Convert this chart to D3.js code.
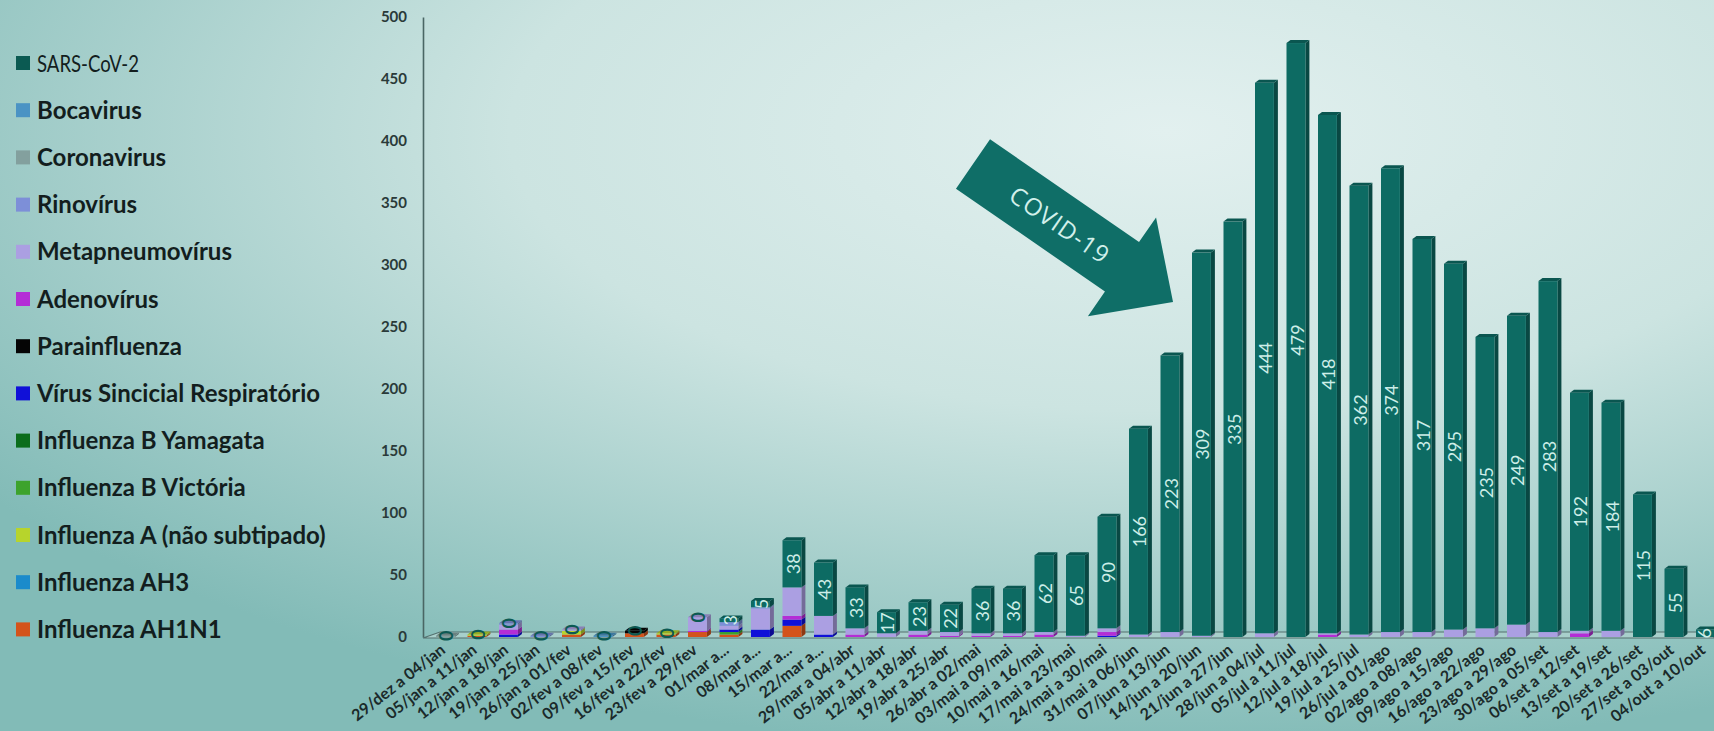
<!DOCTYPE html>
<html>
<head>
<meta charset="utf-8">
<script src="https://cdn.jsdelivr.net/npm/d3@7"></script>
<style>
  html, body { margin: 0; padding: 0; overflow: hidden; }
  svg { display: block; }
</style>
</head>
<body>
<svg id="chart" width="1714" height="731"></svg>
<script>
// Semanas epidemiológicas (eixo x)
const categories = [
  '29/dez a 04/jan', '05/jan a 11/jan', '12/jan a 18/jan', '19/jan a 25/jan', '26/jan a 01/fev',
  '02/fev a 08/fev', '09/fev a 15/fev', '16/fev a 22/fev', '23/fev a 29/fev', '01/mar a...',
  '08/mar a...', '15/mar a...', '22/mar a...', '29/mar a 04/abr', '05/abr a 11/abr',
  '12/abr a 18/abr', '19/abr a 25/abr', '26/abr a 02/mai', '03/mai a 09/mai', '10/mai a 16/mai',
  '17/mai a 23/mai', '24/mai a 30/mai', '31/mai a 06/jun', '07/jun a 13/jun', '14/jun a 20/jun',
  '21/jun a 27/jun', '28/jun a 04/jul', '05/jul a 11/jul', '12/jul a 18/jul', '19/jul a 25/jul',
  '26/jul a 01/ago', '02/ago a 08/ago', '09/ago a 15/ago', '16/ago a 22/ago', '23/ago a 29/ago',
  '30/ago a 05/set', '06/set a 12/set', '13/set a 19/set', '20/set a 26/set', '27/set a 03/out',
  '04/out a 10/out'
];

const yTicks = [0, 50, 100, 150, 200, 250, 300, 350, 400, 450, 500];

// Legend order (top to bottom)
const seriesNames = [
  'SARS-CoV-2', 'Bocavirus', 'Coronavirus', 'Rinovírus', 'Metapneumovírus', 'Adenovírus',
  'Parainfluenza', 'Vírus Sincicial Respiratório', 'Influenza B Yamagata', 'Influenza B Victória',
  'Influenza A (não subtipado)', 'Influenza AH3', 'Influenza AH1N1'
];

const sarsCov2     = [0,0,0,0,0,0,0,0,0,3, 5,38,43,33,17,23,22,36,36,62, 65,90,166,223,309,335,444,479,418,362, 374,317,295,235,249,283,192,184,115,55,6];
const bocavirus    = [0,0,0,0,0,1,0,0,0,0, 0,0,0,0,0,0,0,0,0,0, 0,0,0,0,0,0,0,0,0,0, 0,0,0,0,0,0,0,0,0,0,0];
const coronavirus  = [1,0,0,0,0,0,0,0,0,0, 0,0,0,0,0,0,0,0,0,0, 0,0,0,0,0,0,0,0,0,0, 0,0,0,0,0,0,0,0,0,0,0];
const rinovirus    = [0,0,1,1,0,0,0,0,0,3, 1,0,0,0,0,0,0,0,0,0, 0,0,0,0,0,0,0,0,0,0, 0,0,0,0,0,0,0,0,0,0,0];
const metapneumo   = [0,0,4,0,1,0,0,0,11,3, 17,23,15,5,3,3,3,2,2,2, 1,3,2,4,1,0,3,0,1,2, 4,4,6,7,10,4,2,5,0,0,0];
const adenovirus   = [0,0,4,0,0,0,0,0,1,0, 0,3,0,2,0,2,1,1,1,2, 0,3,0,0,0,0,0,0,2,0, 0,0,0,0,0,0,3,0,0,0,0];
const parainfluenza= [0,0,0,0,0,0,2,0,0,0, 0,0,0,0,0,0,0,0,0,0, 0,0,0,0,0,0,0,0,0,0, 0,0,0,0,0,0,0,0,0,0,0];
const vsr          = [0,0,2,0,0,0,0,0,0,2, 6,5,2,0,0,0,0,0,0,0, 0,1,0,0,0,0,0,0,0,0, 0,0,0,0,0,0,0,0,0,0,0];
const fluBYamagata = [0,0,0,0,0,0,0,0,0,0, 0,0,0,0,0,0,0,0,0,0, 0,0,0,0,0,0,0,0,0,0, 0,0,0,0,0,0,0,0,0,0,0];
const fluBVictoria = [0,0,0,0,0,0,0,0,0,2, 0,0,0,0,0,0,0,0,0,0, 0,0,0,0,0,0,0,0,0,0, 0,0,0,0,0,0,0,0,0,0,0];
const fluA         = [0,1,0,0,3,0,0,1,0,0, 0,0,0,0,0,0,0,0,0,0, 0,0,0,0,0,0,0,0,0,0, 0,0,0,0,0,0,0,0,0,0,0];
const fluAH3       = [0,0,0,0,0,0,0,0,0,0, 0,0,0,0,0,0,0,0,0,0, 0,0,0,0,0,0,0,0,0,0, 0,0,0,0,0,0,0,0,0,0,0];
const fluAH1N1     = [0,1,0,0,2,0,3,2,4,2, 0,9,0,0,0,0,0,0,0,0, 0,0,0,0,0,0,0,0,0,0, 0,0,0,0,0,0,0,0,0,0,0];

const seriesValues = [sarsCov2, bocavirus, coronavirus, rinovirus, metapneumo, adenovirus,
  parainfluenza, vsr, fluBYamagata, fluBVictoria, fluA, fluAH3, fluAH1N1];

const seriesColors = ['#0d6b63', '#4b93c4', '#83a09e', '#7d8fd8', '#ab9fe2', '#b42dd6',
  '#050505', '#1010d8', '#0b6d1c', '#3da32c', '#b7d42c', '#1b8bcb', '#d4531b'];
const legendColors = ['#0b5a52'].concat(seriesColors.slice(1));

const svg = d3.select('#chart');
const W = 1714, H = 731;

// Background
const defs = svg.append('defs');
const bg = defs.append('radialGradient').attr('id', 'bg')
  .attr('cx', '68%').attr('cy', '18%').attr('r', '85%');
bg.append('stop').attr('offset', '0%').attr('stop-color', '#e2f0ef');
bg.append('stop').attr('offset', '45%').attr('stop-color', '#cce4e1');
bg.append('stop').attr('offset', '100%').attr('stop-color', '#82bbb7');
svg.append('rect').attr('width', W).attr('height', H).attr('fill', 'url(#bg)');

// Scales
const x = d3.scaleBand().domain(categories).range([429.7, 1721.2]).paddingInner(0.4).paddingOuter(0.2);
const y = d3.scaleLinear().domain([0, 500]).range([637, 17]);
const bw = x.bandwidth();
const dx = 4, dy = 3;

// Floor
svg.append('path')
  .attr('d', `M423,${y(0) + 1}L440,${y(0) - 5}L${W},${y(0) - 5}L${W},${y(0) + 1}Z`)
  .attr('fill', '#a8cfcb').attr('stroke', '#54716f').attr('stroke-width', 1.2);

// Y axis
const yAxis = svg.append('g').attr('transform', 'translate(423,0)')
  .call(d3.axisLeft(y).tickValues(yTicks).tickSize(0).tickPadding(16));
yAxis.select('.domain').attr('stroke', '#4a6664').attr('stroke-width', 1.6);
yAxis.selectAll('text')
  .attr('font-family', 'Lato, sans-serif').attr('font-weight', 700)
  .attr('font-size', 15).attr('fill', '#2a3a39');

// Stacked data
const rows = categories.map((c, i) => {
  const r = { cat: c };
  seriesNames.forEach((n, k) => { r[n] = seriesValues[k][i]; });
  return r;
});
const stackKeys = seriesNames.slice().reverse();
const stacked = d3.stack().keys(stackKeys)(rows);

const bars = svg.append('g');
stacked.forEach(layer => {
  const color = seriesColors[seriesNames.indexOf(layer.key)];
  const side = d3.color(color).darker(1.1).formatHex();
  const g = bars.append('g');
  const segs = layer.filter(d => d[1] - d[0] > 0);
  g.selectAll('path.side').data(segs).join('path')
    .attr('class', 'side')
    .attr('d', d => {
      const x1 = x(d.data.cat) + bw, yt = y(d[1]), yb = y(d[0]);
      return `M${x1},${yt}L${x1 + dx},${yt - dy}L${x1 + dx},${yb - dy}L${x1},${yb}Z`;
    })
    .attr('fill', side);
  g.selectAll('rect').data(segs).join('rect')
    .attr('x', d => x(d.data.cat))
    .attr('y', d => y(d[1]))
    .attr('width', bw)
    .attr('height', d => y(d[0]) - y(d[1]))
    .attr('fill', color);
});

// Top faces
const tops = rows.map(r => {
  let topKey = null, total = 0;
  stackKeys.forEach(k => { if (r[k] > 0) topKey = k; total += r[k]; });
  return { cat: r.cat, total, topKey };
});
bars.append('g').selectAll('path').data(tops).join('path')
  .attr('d', d => {
    const x0 = x(d.cat), yt = y(d.total);
    return `M${x0},${yt}L${x0 + dx},${yt - dy}L${x0 + bw + dx},${yt - dy}L${x0 + bw},${yt}Z`;
  })
  .attr('fill', d => d3.color(seriesColors[seriesNames.indexOf(d.topKey)]).darker(0.6).formatHex());

// SARS-CoV-2 value labels
const sarsLayer = stacked.find(l => l.key === 'SARS-CoV-2');
svg.append('g').selectAll('text').data(sarsLayer).join('text')
  .attr('transform', d => `translate(${Math.min(x(d.data.cat) + bw / 2 + 1, W - 10)},${(y(d[0]) + y(d[1])) / 2}) rotate(-90)`)
  .attr('text-anchor', 'middle')
  .attr('dominant-baseline', 'central')
  .attr('font-family', 'Lato, sans-serif')
  .attr('font-size', 18)
  .attr('fill', d => (d[1] - d[0]) === 0 ? '#0c5a53' : '#cdeee8')
  .attr('font-weight', d => (d[1] - d[0]) === 0 ? 700 : 400)
  .text(d => d[1] - d[0]);

// X labels
svg.append('g').selectAll('text').data(categories).join('text')
  .attr('transform', d => `translate(${x(d) + bw / 2 + 1},652) rotate(-38)`)
  .attr('text-anchor', 'end')
  .attr('font-family', 'Lato, sans-serif')
  .attr('font-weight', 700)
  .attr('font-size', 16)
  .attr('fill', '#1b2a2a')
  .text(d => d);

// Legend
const legend = svg.append('g');
const item = legend.selectAll('g').data(seriesNames).join('g')
  .attr('transform', (d, i) => `translate(16,${63 + i * 47.2})`);
item.append('rect').attr('x', 0).attr('y', -7).attr('width', 14).attr('height', 14)
  .attr('fill', (d, i) => legendColors[i]);
item.append('text')
  .attr('x', 21).attr('dy', '0.36em')
  .attr('font-family', 'Lato, sans-serif')
  .attr('font-weight', 700)
  .attr('font-size', 24)
  .attr('fill', '#131e1e')
  .each(function (d, i) {
    const t = d3.select(this).text(d);
    if (i === 0) t.attr('textLength', 102).attr('lengthAdjust', 'spacingAndGlyphs').attr('font-weight', 400);
  });

// COVID-19 arrow
const arrow = svg.append('g').attr('transform', 'translate(973,164) rotate(34.6)');
arrow.append('path')
  .attr('d', 'M0,-30L181,-30L181,-60L243,0L181,60L181,30L0,30Z')
  .attr('fill', '#0f6e67');
arrow.append('text')
  .attr('x', 106).attr('y', 0)
  .attr('text-anchor', 'middle').attr('dominant-baseline', 'central')
  .attr('font-family', '"Open Sans", sans-serif')
  .attr('font-size', 24).attr('letter-spacing', 1)
  .attr('fill', '#d2f0eb')
  .text('COVID-19');
</script>
</body>
</html>
